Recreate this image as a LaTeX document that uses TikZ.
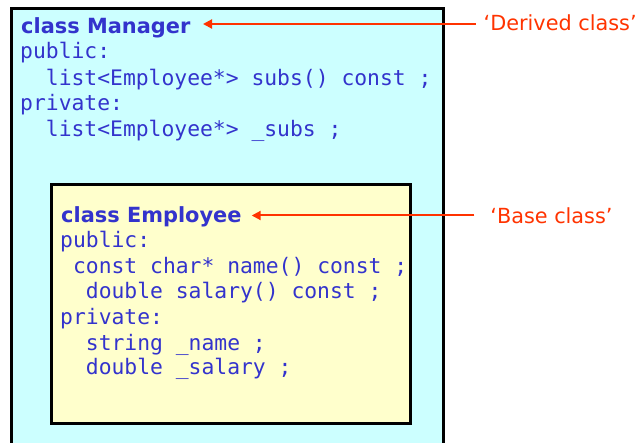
\documentclass[tikz,border=0pt]{standalone}
\usepackage{fontspec}
\setmainfont{DejaVu Sans}
\setmonofont{DejaVu Sans Mono}
\usetikzlibrary{arrows.meta}
\definecolor{codeblue}{HTML}{3333CC}
\definecolor{arrowred}{HTML}{FF3300}
\definecolor{cyanfill}{HTML}{CCFFFF}
\definecolor{yellowfill}{HTML}{FFFFCC}
\begin{document}
\begin{tikzpicture}[x=1pt,y=-1pt,
  classbox/.style={draw=black, line width=3pt, anchor=north west, inner sep=0pt, outer sep=0pt},
  titletext/.style={anchor=base west, inner sep=0pt, text=codeblue, font=\fontsize{20.9}{25}\selectfont\bfseries},
  codetext/.style={anchor=base west, inner sep=0pt, text=codeblue, font=\fontsize{21.35}{25}\selectfont\ttfamily},
  lbltext/.style={anchor=base west, inner ysep=0pt, text=arrowred, font=\fontsize{20.8}{25}\selectfont},
  arr/.style={draw=arrowred, line width=2pt, -{Triangle[length=9pt,width=9pt]}}]
\useasboundingbox (0,0) rectangle (643,443);
% outer class box
\node[classbox, fill=cyanfill, minimum width=431.5pt, minimum height=470pt] (mbox) at (11.5,8.7) {};
% inner class box
\node[classbox, fill=yellowfill, minimum width=359.4pt, minimum height=239.1pt] (ebox) at (51.3,184.7) {};
% Manager text
\node[titletext] (mgr) at (21,34) {class Manager};
\node[codetext] (m1) at (20,58.5) {public:};
\node[codetext] (m2) at (45.7,85.5) {list<Employee*> subs() const ;};
\node[codetext] (m3) at (20,111) {private:};
\node[codetext] (m4) at (45.7,136.5) {list<Employee*> \_subs ;};
% Employee text
\node[titletext] (emp) at (61,223) {class Employee};
\node[codetext] (e1) at (60,248) {public:};
\node[codetext] (e2) at (72.85,273.5) {const char* name() const ;};
\node[codetext] (e3) at (85.7,299) {double salary() const ;};
\node[codetext] (e4) at (60,324.5) {private:};
\node[codetext] (e5) at (85.7,350.5) {string \_name ;};
\node[codetext] (e6) at (85.7,375) {double \_salary ;};
% labels and arrows
\node[lbltext, inner xsep=8pt] (dlab) at (475.5,30.5) {‘Derived class’};
\node[lbltext, inner xsep=15.9pt] (blab) at (474.3,223.3) {‘Base class’};
\coordinate (mtip) at (203,24);
\coordinate (etip) at (251.7,215.5);
\draw[arr] (dlab.west |- mtip) -- (mtip);
\draw[arr] (blab.west |- etip) -- (etip);
\end{tikzpicture}
\end{document}
